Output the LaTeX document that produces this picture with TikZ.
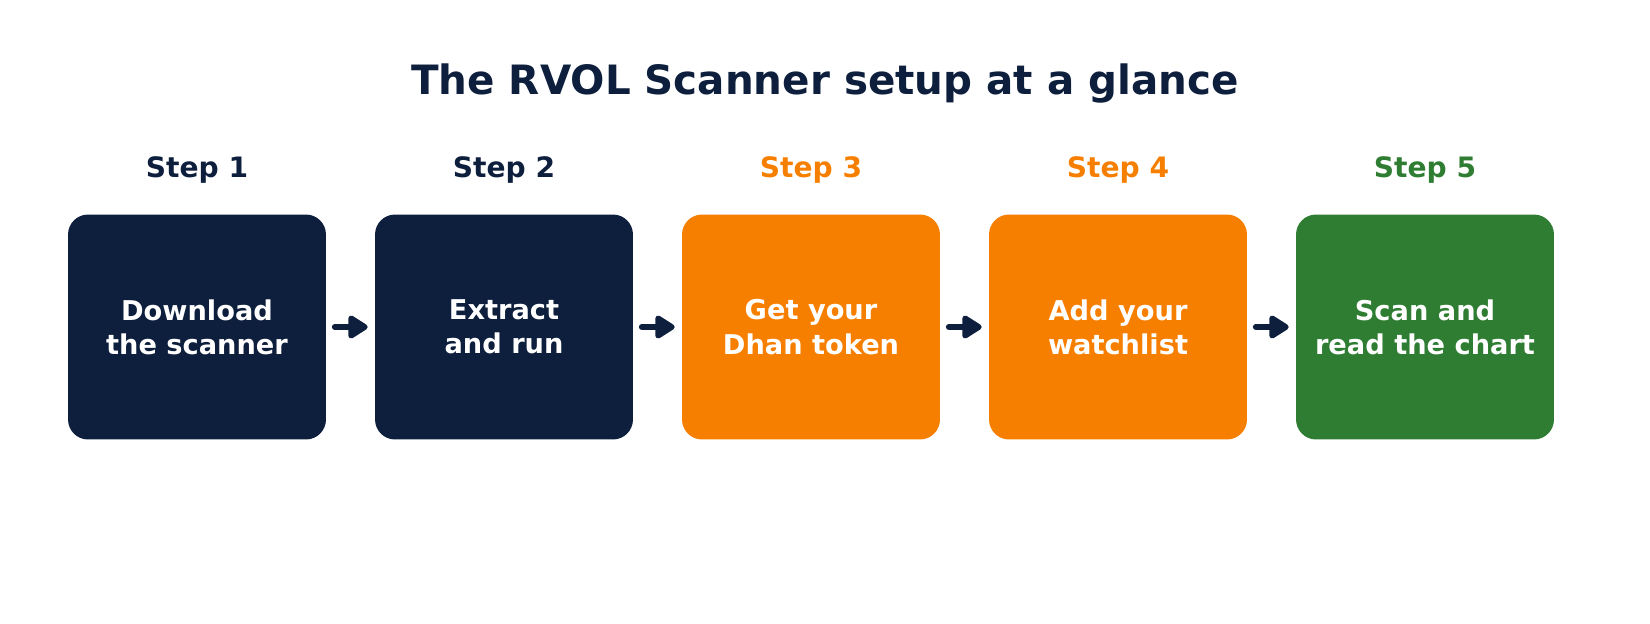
\documentclass[tikz,border=0pt]{standalone}
\usepackage{fontspec}
\setmainfont{DejaVu Sans}
\usetikzlibrary{arrows.meta,positioning}
\definecolor{navy}{HTML}{0D1F3C}
\definecolor{amber}{HTML}{F77F00}
\definecolor{leaf}{HTML}{2E7D32}

\begin{document}
\begin{tikzpicture}[
	x = 0.02cm, y = -0.02cm, % one pixel of the reference
	> = {Triangle[round, length=4.4mm, width=5.2mm]}, % arrow head style
	B/.style={rounded corners=0.4cm, minimum width=5.16cm, minimum height=4.5cm, align=center, text=white, font=\bfseries\fontsize{15.5}{19.5}\selectfont},
	S/.style={font=\bfseries\fontsize{16}{19}\selectfont},
	A/.style={->, line width=3.4pt, line cap=round, draw=navy, fill=navy},
	]
	\useasboundingbox (0,0) rectangle (1650,623);

	% Title
	\node[text=navy, font=\bfseries\fontsize{23}{27}\selectfont] (title) at (825,84) {The RVOL Scanner setup at a glance};

	% Boxes
	\node[B, fill=navy]  (b1) at (197,327) {Download\\the scanner};
	\node[B, fill=navy]  (b2) at (504,327) {Extract\\and run};
	\node[B, fill=amber] (b3) at (811,327) {Get your\\Dhan token};
	\node[B, fill=amber] (b4) at (1118,327) {Add your\\watchlist};
	\node[B, fill=leaf]  (b5) at (1425,327) {Scan and\\read the chart};

	% Step labels
	\node[S, text=navy]  (s1) [above = 0.5cm of b1] {Step 1};
	\node[S, text=navy]  (s2) [above = 0.5cm of b2] {Step 2};
	\node[S, text=amber] (s3) [above = 0.5cm of b3] {Step 3};
	\node[S, text=amber] (s4) [above = 0.5cm of b4] {Step 4};
	\node[S, text=leaf]  (s5) [above = 0.5cm of b5] {Step 5};

	% Arrows
	\foreach \a/\b in {b1/b2, b2/b3, b3/b4, b4/b5}
		\draw[A, shorten <= 0.17cm, shorten >= 0.14cm] (\a) -- (\b);
\end{tikzpicture}
\end{document}
